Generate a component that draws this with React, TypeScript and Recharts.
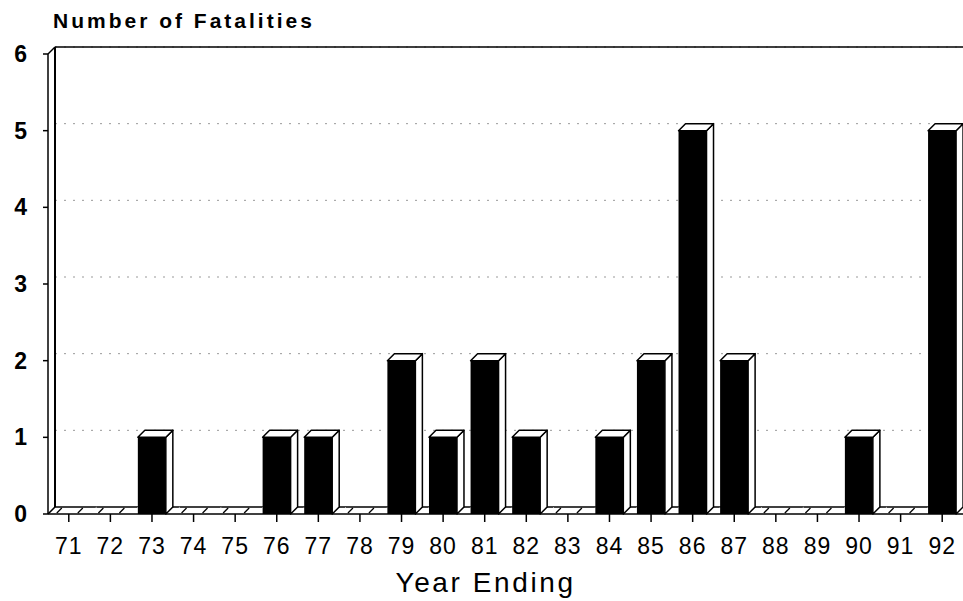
import React from 'react';
import { BarChart, Bar, XAxis, YAxis, CartesianGrid } from 'recharts';

const YEARS = ['71', '72', '73', '74', '75', '76', '77', '78', '79', '80', '81', '82', '83', '84', '85', '86', '87', '88', '89', '90', '91', '92'];
const FATALITIES = [0, 0, 1, 0, 0, 1, 1, 0, 2, 1, 2, 1, 0, 1, 2, 5, 2, 0, 0, 1, 0, 5];
const Y_TICKS = [0, 1, 2, 3, 4, 5, 6];

const rows = YEARS.map((year, i) => ({ year, value: FATALITIES[i] }));

// depth of the fake 3D extrusion, px
const D = 7;
const FONT = '"Liberation Sans", Arial, Helvetica, sans-serif';

function Box3D(props: any) {
  const { x, y, width: w, height: h } = props;
  if (!h || h <= 0) return null;
  const top = `${x},${y} ${x + D},${y - D} ${x + w + D},${y - D} ${x + w},${y}`;
  const side = `${x + w},${y} ${x + w + D},${y - D} ${x + w + D},${y + h - D} ${x + w},${y + h}`;
  return (
    <g>
      <polygon points={side} fill="#fff" stroke="#000" strokeWidth={1.5} strokeLinejoin="round" />
      <polygon points={top} fill="#fff" stroke="#000" strokeWidth={1.5} strokeLinejoin="round" />
      <rect x={x} y={y} width={w} height={h} fill="#000" />
    </g>
  );
}

// floor strip under each category slot, with the little hatch slashes
function FloorSlot(props: any) {
  const { x, y, width: w, height: h } = props;
  const gap = w * 0.245;
  const x0 = x - gap;
  const x1 = x + w + gap;
  const yb = y + h;
  const slab = `${x0},${yb} ${x0 + D},${yb - D} ${x1 + D},${yb - D} ${x1},${yb}`;
  const marks = [x0 + 9, x0 + 30];
  return (
    <g>
      <polygon points={slab} fill="#fff" stroke="none" />
      <line x1={x0 + D} y1={yb - D} x2={x1 + D} y2={yb - D} stroke="#000" strokeWidth={1.5} />
      {marks.map((m, i) => (
        <line key={i} x1={m} y1={yb - 1} x2={m + 5} y2={yb - D + 1} stroke="#000" strokeWidth={1.3} />
      ))}
    </g>
  );
}

function BackGrid(props: any) {
  const { x1, x2, y1 } = props;
  if (y1 > 510) return null;
  return (
    <line x1={x1 + D} x2={x2} y1={y1 - D} y2={y1 - D} stroke="#999" strokeWidth={1} strokeDasharray="2 7" />
  );
}

export default function App() {
  return (
    <div style={{ position: 'absolute', left: 0, top: 0, width: 963, height: 601, background: '#fff' }}>
      <div
        style={{
          position: 'absolute',
          left: 53,
          top: 9,
          fontFamily: FONT,
          fontWeight: 'bold',
          fontSize: 21,
          letterSpacing: 3,
          color: '#000',
          whiteSpace: 'nowrap',
        }}
      >
        Number of Fatalities
      </div>
      <BarChart
        width={963}
        height={601}
        data={rows}
        margin={{ top: 54, right: 0, bottom: 27, left: 0 }}
        barCategoryGap="16%"
      >
        <CartesianGrid vertical={false} horizontal={BackGrid as any} />
        <XAxis
          dataKey="year"
          height={60}
          tickSize={8}
          tickMargin={16}
          axisLine={{ stroke: '#000', strokeWidth: 1.5 }}
          tickLine={{ stroke: '#000', strokeWidth: 1.5 }}
          tick={{ fill: '#000', fontSize: 23, fontFamily: FONT, letterSpacing: 1 }}
          interval={0}
        />
        <YAxis
          width={48}
          domain={[0, 6]}
          ticks={Y_TICKS}
          tickSize={5}
          tickMargin={16}
          axisLine={{ stroke: '#000', strokeWidth: 1.5 }}
          tickLine={{ stroke: '#000', strokeWidth: 1.5 }}
          tick={{ fill: '#000', fontSize: 23, fontFamily: FONT, fontWeight: 'bold' }}
          interval={0}
        />
        <Bar
          dataKey="value"
          shape={Box3D}
          background={FloorSlot as any}
          isAnimationActive={false}
        />
      </BarChart>
      <svg
        width={963}
        height={601}
        style={{ position: 'absolute', left: 0, top: 0, pointerEvents: 'none' }}
      >
        <line x1={48 + D} y1={47} x2={963} y2={47} stroke="#000" strokeWidth={1.5} />
        <line x1={48 + D} y1={47} x2={48 + D} y2={507} stroke="#000" strokeWidth={2} />
        <line x1={48} y1={54} x2={48 + D} y2={47} stroke="#000" strokeWidth={1.5} />
        <line x1={48} y1={514} x2={48 + D} y2={507} stroke="#000" strokeWidth={1.5} />
      </svg>
      <div
        style={{
          position: 'absolute',
          left: 0,
          width: 963,
          top: 567,
          textAlign: 'center',
          paddingLeft: 4,
          fontFamily: FONT,
          fontSize: 28,
          letterSpacing: 2.6,
          color: '#000',
        }}
      >
        Year Ending
      </div>
    </div>
  );
}
